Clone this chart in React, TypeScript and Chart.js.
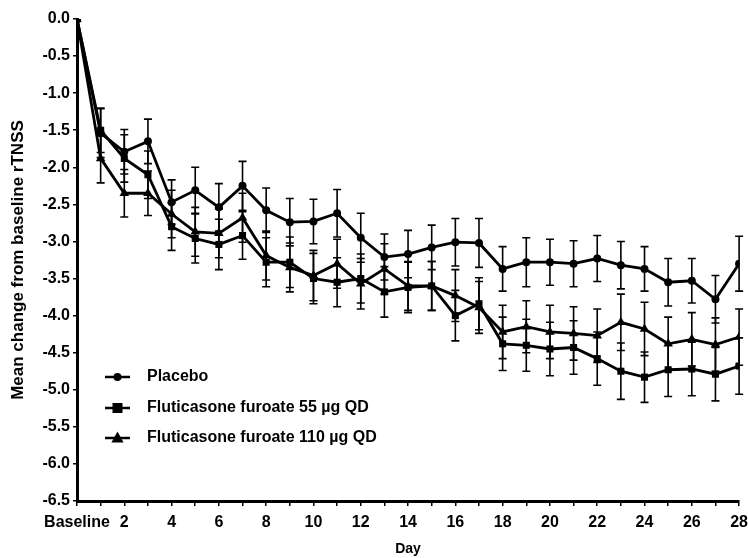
import React, { useEffect, useRef } from "react";
import { Chart, registerables } from "chart.js";

Chart.register(...registerables);

const days = [0, 1, 2, 3, 4, 5, 6, 7, 8, 9, 10, 11, 12, 13, 14, 15, 16, 17, 18, 19, 20, 21, 22, 23, 24, 25, 26, 27, 28];

const placebo = [0, -1.54, -1.79, -1.65, -2.47, -2.31, -2.54, -2.25, -2.58, -2.74, -2.73, -2.62, -2.95, -3.21, -3.17, -3.08, -3.01, -3.02, -3.37, -3.28, -3.28, -3.30, -3.23, -3.32, -3.37, -3.55, -3.53, -3.78, -3.30];
const placeboErr = [0, 0.33, 0.30, 0.30, 0.30, 0.31, 0.32, 0.33, 0.30, 0.32, 0.30, 0.32, 0.33, 0.31, 0.32, 0.30, 0.32, 0.33, 0.30, 0.33, 0.31, 0.31, 0.31, 0.32, 0.30, 0.32, 0.30, 0.32, 0.37];

const ff55 = [0, -1.50, -1.88, -2.10, -2.80, -2.96, -3.04, -2.92, -3.28, -3.28, -3.50, -3.55, -3.50, -3.68, -3.62, -3.60, -4.00, -3.84, -4.38, -4.40, -4.45, -4.43, -4.58, -4.75, -4.83, -4.73, -4.72, -4.79, -4.68];
const ff55Err = [0, 0.30, 0.32, 0.32, 0.32, 0.33, 0.34, 0.32, 0.33, 0.34, 0.34, 0.33, 0.33, 0.34, 0.34, 0.33, 0.34, 0.35, 0.36, 0.35, 0.36, 0.36, 0.36, 0.38, 0.34, 0.36, 0.36, 0.36, 0.38];

const ff110 = [0, -1.88, -2.35, -2.35, -2.63, -2.87, -2.89, -2.68, -3.19, -3.35, -3.46, -3.30, -3.57, -3.37, -3.60, -3.60, -3.73, -3.89, -4.22, -4.15, -4.22, -4.24, -4.27, -4.09, -4.18, -4.38, -4.32, -4.39, -4.29];
const ff110Err = [0, 0.33, 0.32, 0.30, 0.32, 0.33, 0.33, 0.33, 0.33, 0.33, 0.34, 0.33, 0.34, 0.34, 0.33, 0.33, 0.35, 0.35, 0.36, 0.35, 0.36, 0.36, 0.36, 0.38, 0.36, 0.36, 0.36, 0.36, 0.38];

const seriesNames = ["Placebo", "Fluticasone furoate 55 \u00b5g QD", "Fluticasone furoate 110 \u00b5g QD"];
const seriesValues = [placebo, ff55, ff110];
const seriesErrors = [placeboErr, ff55Err, ff110Err];
const seriesMarkers = ["circle", "rect", "triangle"];
const seriesMarkerSizes = [4, 5, 5.5];

const yTitle = "Mean change from baseline rTNSS";
const xTitle = "Day";

const FONT = "'Liberation Sans', Arial, sans-serif";

function drawMarker(ctx: CanvasRenderingContext2D, style: string, x: number, y: number, r: number) {
  ctx.beginPath();
  if (style === "circle") {
    ctx.arc(x, y, r, 0, Math.PI * 2);
  } else if (style === "rect") {
    ctx.rect(x - r, y - r, 2 * r, 2 * r);
  } else {
    ctx.moveTo(x, y - r * 1.2);
    ctx.lineTo(x + r * 1.1, y + r * 0.8);
    ctx.lineTo(x - r * 1.1, y + r * 0.8);
    ctx.closePath();
  }
  ctx.fill();
}

const errorBarPlugin = {
  id: "errorBars",
  beforeDatasetsDraw(chart: any) {
    const ctx = chart.ctx;
    const xs = chart.scales.x;
    const ys = chart.scales.y;
    ctx.save();
    ctx.strokeStyle = "#000";
    ctx.lineWidth = 1.6;
    chart.data.datasets.forEach((ds: any, i: number) => {
      const errs = seriesErrors[i];
      ds.data.forEach((pt: any, j: number) => {
        const e = errs[j];
        if (!e) return;
        const x = xs.getPixelForValue(pt.x);
        const y1 = ys.getPixelForValue(pt.y + e);
        const y2 = ys.getPixelForValue(pt.y - e);
        ctx.beginPath();
        ctx.moveTo(x, y1);
        ctx.lineTo(x, y2);
        ctx.moveTo(x - 4, y1);
        ctx.lineTo(x + 4, y1);
        ctx.moveTo(x - 4, y2);
        ctx.lineTo(x + 4, y2);
        ctx.stroke();
      });
    });
    ctx.restore();
  },
};

const legendPlugin = {
  id: "insideLegend",
  afterDraw(chart: any) {
    const ctx = chart.ctx;
    const area = chart.chartArea;
    const rows = [358, 389, 419];
    ctx.save();
    ctx.fillStyle = "#000";
    ctx.strokeStyle = "#000";
    ctx.font = `bold 16px ${FONT}`;
    ctx.textBaseline = "middle";
    ctx.textAlign = "left";
    seriesNames.forEach((name, i) => {
      const y = area.top + rows[i];
      const x0 = area.left + 28;
      ctx.lineWidth = 2.5;
      ctx.beginPath();
      ctx.moveTo(x0, y);
      ctx.lineTo(x0 + 25, y);
      ctx.stroke();
      drawMarker(ctx, seriesMarkers[i], x0 + 12.5, y, seriesMarkerSizes[i]);
      ctx.fillText(name, area.left + 70, y);
    });
    ctx.restore();
  },
};

export default function App() {
  const ref = useRef<HTMLCanvasElement | null>(null);

  useEffect(() => {
    document.body.style.margin = "0";
    document.body.style.overflow = "hidden";
    const canvas = ref.current;
    if (!canvas) return;
    const datasets = seriesNames.map((name, i) => ({
      label: name,
      data: days.map((d, j) => ({ x: d, y: seriesValues[i][j] })),
      borderColor: "#000",
      backgroundColor: "#000",
      borderWidth: 2.8,
      pointStyle: seriesMarkers[i],
      pointRadius: seriesMarkerSizes[i],
      pointBackgroundColor: "#000",
      pointBorderColor: "#000",
      pointBorderWidth: 0,
      tension: 0,
    }));
    const chart = new Chart(canvas, {
      type: "line",
      data: { datasets },
      plugins: [errorBarPlugin, legendPlugin],
      options: {
        animation: false,
        responsive: false,
        layout: { padding: { top: 19, right: 0, left: 0, bottom: 0 } },
        plugins: { legend: { display: false }, tooltip: { enabled: false } },
        scales: {
          x: {
            type: "linear",
            min: 0,
            max: 28,
            afterFit: (s: any) => {
              s.height = 57;
            },
            border: { display: true, color: "#000", width: 3 },
            grid: { drawOnChartArea: false, drawTicks: true, tickLength: 5, color: "#000", lineWidth: 1.5 },
            ticks: {
              stepSize: 1,
              autoSkip: false,
              maxRotation: 0,
              padding: 7,
              color: "#000",
              font: { family: FONT, size: 16, weight: "bold" },
              callback: (v: any) => (v === 0 ? "Baseline" : v % 2 === 0 ? String(v) : ""),
            },
            title: {
              display: true,
              text: xTitle,
              color: "#000",
              font: { family: FONT, size: 14, weight: "bold" },
              padding: { top: 0, bottom: 0 },
            },
          },
          y: {
            type: "linear",
            min: -6.5,
            max: 0,
            afterFit: (s: any) => {
              s.width = 77;
            },
            border: { display: true, color: "#000", width: 3 },
            grid: { drawOnChartArea: false, drawTicks: true, tickLength: 4, color: "#000", lineWidth: 1.5 },
            ticks: {
              stepSize: 0.5,
              padding: 3,
              color: "#000",
              font: { family: FONT, size: 16, weight: "bold" },
              callback: (v: any) => Number(v).toFixed(1),
            },
            title: {
              display: true,
              text: yTitle,
              color: "#000",
              font: { family: FONT, size: 17, weight: "bold" },
              padding: { top: 8, bottom: 0 },
            },
          },
        },
      },
    } as any);
    return () => chart.destroy();
  }, []);

  return (
    <div style={{ position: "absolute", left: 0, top: 0, width: 748, height: 558, overflow: "hidden" }}>
      <canvas ref={ref} width={755} height={558} style={{ display: "block" }} />
    </div>
  );
}
